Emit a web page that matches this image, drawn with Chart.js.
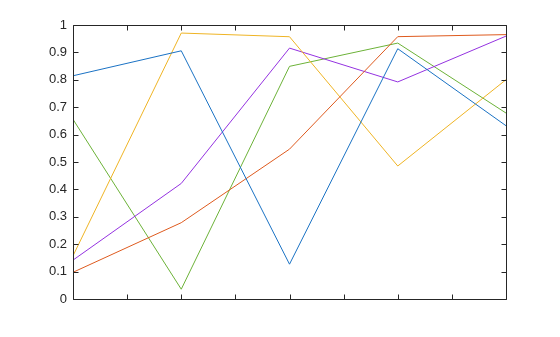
<!DOCTYPE html>
<html>
<head>
<meta charset="utf-8">
<script src="https://cdn.jsdelivr.net/npm/chart.js@4/dist/chart.umd.min.js"></script>
<style>
  body { margin: 0; background: #fff; }
</style>
</head>
<body>
<canvas id="grafica" width="560" height="337"></canvas>
<script>
// datos (5 columnas, una linea por columna)
const xValores = [1, 2, 3, 4, 5];
const serieAzul = [0.8147, 0.9058, 0.1270, 0.9134, 0.6324];
const serieNaranja = [0.0975, 0.2785, 0.5469, 0.9575, 0.9649];
const serieAmarilla = [0.1576, 0.9706, 0.9572, 0.4854, 0.8003];
const serieMorada = [0.1419, 0.4218, 0.9157, 0.7922, 0.9595];
const serieVerde = [0.6557, 0.0357, 0.8491, 0.9340, 0.6787];
const yEtiquetas = ['0', '0.1', '0.2', '0.3', '0.4', '0.5', '0.6', '0.7', '0.8', '0.9', '1'];

function puntos(valores){
    return valores.map((v, i) => ({x: xValores[i], y: v}));
}

function linea(valores, color){
    return {
        data: puntos(valores),
        borderColor: color,
        borderWidth: 1,
        pointRadius: 0,
        tension: 0,
        fill: false
    };
}

// caja con marcas hacia adentro, estilo octave
const caja = {
    id: 'caja',
    afterDraw(chart){
        const ctx = chart.ctx;
        const a = chart.chartArea;
        const sx = chart.scales.x;
        const sy = chart.scales.y;
        const l = Math.round(a.left) + 0.5, r = Math.round(a.right) + 0.5;
        const t = Math.round(a.top) + 0.5, b = Math.round(a.bottom) + 0.5;
        const largo = 5;
        ctx.save();
        ctx.strokeStyle = '#262626';
        ctx.lineWidth = 1;
        ctx.beginPath();
        ctx.rect(l, t, r - l, b - t);
        sx.ticks.forEach(tk => {
            const px = Math.round(sx.getPixelForValue(tk.value)) + 0.5;
            ctx.moveTo(px, b); ctx.lineTo(px, b - largo);
            ctx.moveTo(px, t); ctx.lineTo(px, t + largo);
        });
        sy.ticks.forEach(tk => {
            const py = Math.round(sy.getPixelForValue(tk.value)) + 0.5;
            ctx.moveTo(l, py); ctx.lineTo(l + largo, py);
            ctx.moveTo(r, py); ctx.lineTo(r - largo, py);
        });
        ctx.stroke();
        ctx.restore();
    }
};

const ctx = document.getElementById('grafica');

new Chart(ctx, {
    type: 'line',
    data: {
        datasets: [
            linea(serieAzul, '#1a72c4'),
            linea(serieNaranja, '#de5a1e'),
            linea(serieAmarilla, '#efb424'),
            linea(serieMorada, '#9432e0'),
            linea(serieVerde, '#6cb238')
        ]
    },
    options: {
        responsive: false,
        animation: false,
        layout: { padding: { left: 0, top: 25, right: 54, bottom: 0 } },
        plugins: {
            legend: { display: false },
            tooltip: { enabled: false }
        },
        scales: {
            x: {
                type: 'linear',
                min: 1,
                max: 5,
                ticks: { stepSize: 0.5, display: false },
                grid: { display: false },
                border: { display: false },
                afterFit(scale){ scale.height = 38; }
            },
            y: {
                min: 0,
                max: 1,
                ticks: {
                    stepSize: 0.1,
                    padding: 6,
                    color: '#262626',
                    font: { family: '"Liberation Sans", Arial, sans-serif', size: 13 },
                    callback: (v, i) => yEtiquetas[i]
                },
                grid: { display: false, drawTicks: false },
                border: { display: false },
                afterFit(scale){ scale.width = 73; }
            }
        }
    },
    plugins: [caja]
});
</script>
</body>
</html>
